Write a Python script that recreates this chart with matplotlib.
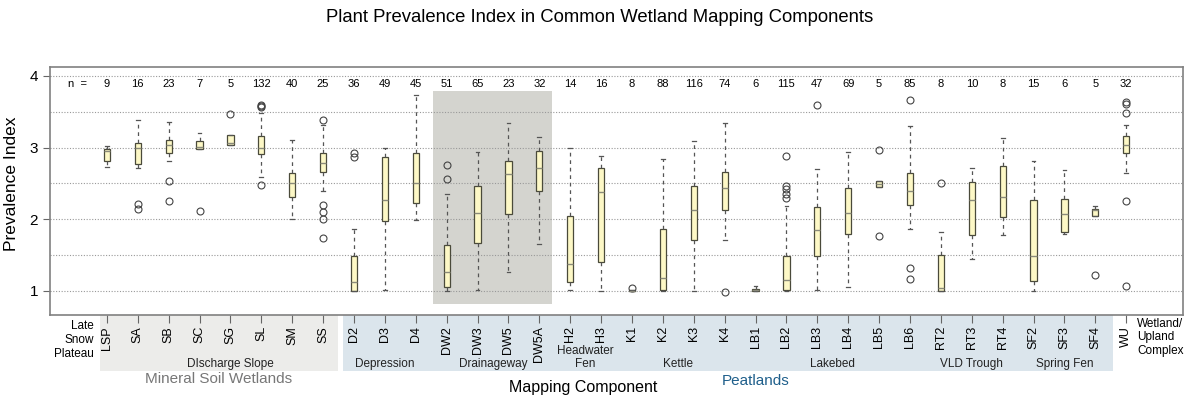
import matplotlib
matplotlib.use("Agg")
import matplotlib.pyplot as plt
from matplotlib.patches import Rectangle
from matplotlib.transforms import blended_transform_factory
import numpy as np

plt.rcParams["font.family"] = ["Liberation Sans", "DejaVu Sans"]

labels = ["LSP", "SA", "SB", "SC", "SG", "SL", "SM", "SS",
          "D2", "D3", "D4", "DW2", "DW3", "DW5", "DW5A", "H2", "H3",
          "K1", "K2", "K3", "K4", "LB1", "LB2", "LB3", "LB4", "LB5", "LB6",
          "RT2", "RT3", "RT4", "SF2", "SF3", "SF4", "WU"]
n_counts = [9, 16, 23, 7, 5, 132, 40, 25, 36, 49, 45, 51, 65, 23, 32, 14, 16,
            8, 88, 116, 74, 6, 115, 47, 69, 5, 85, 8, 10, 8, 15, 6, 5, 32]
q1 = [2.81, 2.77, 2.92, 2.98, 3.03, 2.91, 2.31, 2.66, 1.00, 1.98, 2.23, 1.05,
      1.67, 2.08, 2.39, 1.13, 1.40, 1.00, 1.02, 1.71, 2.13, 1.00, 1.01, 1.49,
      1.79, 2.45, 2.20, 1.00, 1.78, 2.03, 1.14, 1.82, 2.05, 2.93]
med = [2.96, 3.00, 3.04, 3.01, 3.06, 3.00, 2.50, 2.78, 1.12, 2.27, 2.51, 1.27,
       2.09, 2.63, 2.72, 1.37, 2.38, 1.00, 1.18, 2.13, 2.43, 1.01, 1.15, 1.85,
       2.09, 2.49, 2.39, 1.04, 2.27, 2.31, 1.49, 2.07, 2.13, 3.04]
q3 = [2.98, 3.06, 3.11, 3.09, 3.18, 3.16, 2.64, 2.93, 1.49, 2.87, 2.92, 1.64,
      2.47, 2.82, 2.95, 2.04, 2.71, 1.01, 1.87, 2.47, 2.66, 1.03, 1.49, 2.17,
      2.44, 2.54, 2.64, 1.50, 2.52, 2.75, 2.27, 2.29, 2.15, 3.16]
whislo = [2.73, 2.72, 2.81, 2.98, 3.03, 2.59, 2.01, 2.40, 1.00, 1.01, 1.99, 1.00,
          1.02, 1.27, 1.66, 1.01, 1.00, 1.00, 1.00, 1.00, 1.71, 1.00, 1.00, 1.01,
          1.06, 2.45, 1.87, 1.00, 1.45, 1.78, 1.00, 1.80, 2.05, 2.65]
whishi = [3.02, 3.38, 3.36, 3.20, 3.18, 3.49, 3.11, 3.31, 1.87, 2.99, 3.73, 2.35,
          2.94, 3.34, 3.15, 3.00, 2.89, 1.01, 2.84, 3.09, 3.34, 1.07, 2.19, 2.70,
          2.94, 2.54, 3.30, 1.83, 2.72, 3.13, 2.81, 2.69, 2.19, 3.32]
fliers = [[], [2.21, 2.14], [2.53, 2.26], [2.12], [3.47],
          [3.60, 3.58, 3.56, 2.48], [], [3.38, 2.20, 2.10, 2.00, 1.74],
          [2.93, 2.87], [], [], [2.76, 2.56], [], [], [], [], [],
          [1.04], [], [], [0.99], [], [2.89, 2.46, 2.42, 2.36, 2.30], [3.60],
          [], [2.97, 1.77], [3.66, 1.32, 1.17], [2.51], [], [], [], [], [1.22],
          [3.64, 3.61, 3.49, 2.26, 1.07]]

# sub-groups: (label, first index, last index)
groups = [("DIscharge Slope", 1, 7), ("Depression", 8, 10), ("Drainageway", 11, 14),
          ("Headwater\nFen", 15, 16), ("Kettle", 17, 20), ("Lakebed", 21, 26),
          ("VLD Trough", 27, 29), ("Spring Fen", 30, 32)]

pos = np.arange(1, len(labels) + 1)

fig = plt.figure(figsize=(12, 3.99), dpi=100)
ax = fig.add_axes([0.0417, 0.2105, 0.9442, 0.6216])

stats = []
for i in range(len(labels)):
    stats.append(dict(med=med[i], q1=q1[i], q3=q3[i], whislo=whislo[i],
                      whishi=whishi[i], fliers=fliers[i]))

# drainageway highlight
ax.add_patch(Rectangle((11.55, 0.82), 3.85, 2.97, color="#d4d4cf", zorder=0.5, lw=0))

for yv in np.arange(1, 4.01, 0.5):
    ax.axhline(yv, color="#999999", ls=(0, (1, 1.5)), lw=0.8, zorder=1)

ax.bxp(stats, positions=pos, widths=0.2, patch_artist=True, capwidths=0.12,
       boxprops=dict(facecolor="#fdf8c6", edgecolor="#4a4a3a", linewidth=0.9),
       medianprops=dict(color="#8a8a7a", linewidth=1.0),
       whiskerprops=dict(color="#555555", linestyle=(0, (3, 3)), linewidth=0.9),
       capprops=dict(color="#555555", linewidth=0.9),
       flierprops=dict(marker="o", markerfacecolor="none", markeredgecolor="#444444",
                       markersize=5, markeredgewidth=0.8))

ax.text(0.06, 3.89, "n  =", ha="center", va="center", fontsize=8)
for p, n in zip(pos, n_counts):
    ax.text(p, 3.89, str(n), ha="center", va="center", fontsize=8)

ax.set_xlim(-0.84, 35.84)
ax.set_ylim(0.665, 4.125)
ax.set_yticks([1, 2, 3, 4])
ax.set_xticks(pos, labels, rotation=90, fontsize=9)
ax.tick_params(axis="x", length=6, pad=2, color="#666666")
ax.tick_params(axis="y", length=5, labelsize=11, color="#666666")
for s in ax.spines.values():
    s.set_color("#808080")
    s.set_linewidth(1.2)
ax.set_ylabel("Prevalence Index", fontsize=12.5)
ax.yaxis.set_label_coords(-0.027, 0.528)

# shaded bands under the axis
tr = blended_transform_factory(ax.transData, ax.transAxes)
ax.add_patch(Rectangle((0.77, -0.226), 7.71, 0.226, transform=tr, clip_on=False,
                       color="#ececea", zorder=-1, lw=0))
ax.add_patch(Rectangle((8.64, -0.226), 24.92, 0.226, transform=tr, clip_on=False,
                       color="#dbe5ec", zorder=-1, lw=0))

for name, a, b in groups:
    yy = -0.198 if "\n" not in name else -0.172
    ax.text(pos[a:b + 1].mean(), yy, name, transform=tr, ha="center", va="center",
            fontsize=8.5, color="#222222", linespacing=1.1)

ax.text(0.57, -0.10, "Late\nSnow\nPlateau", transform=tr, ha="right", va="center",
        fontsize=8.5, linespacing=1.2)
ax.text(34.35, -0.09, "Wetland/\nUpland\nComplex", transform=tr, ha="left", va="center",
        fontsize=8.5, linespacing=1.2)

fig.text(0.182, 0.050, "Mineral Soil Wetlands", ha="center", va="center",
         fontsize=11, color="#777777")
fig.text(0.486, 0.028, "Mapping Component", ha="center", va="center", fontsize=11.5)
fig.text(0.630, 0.045, "Peatlands", ha="center", va="center", fontsize=11,
         color="#1f5f8b")
fig.suptitle("Plant Prevalence Index in Common Wetland Mapping Components",
             y=0.957, va="center", fontsize=13.3)

fig.savefig("out.png", dpi=100)
